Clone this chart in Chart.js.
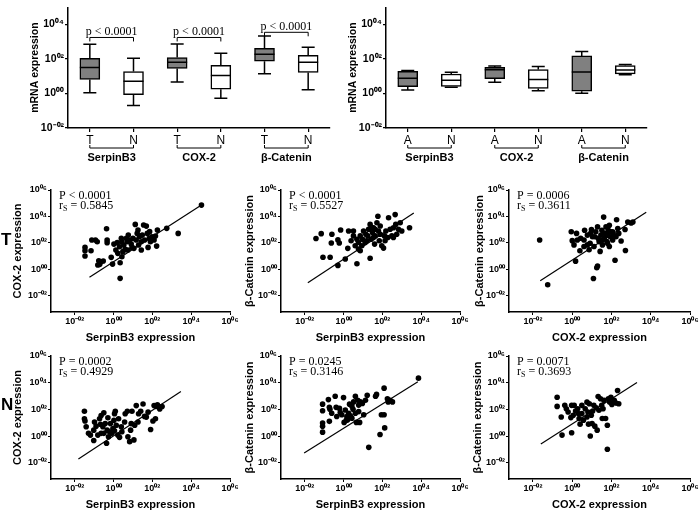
<!DOCTYPE html>
<html>
<head>
<meta charset="utf-8">
<script src="https://cdn.jsdelivr.net/npm/chart.js@4.4.1/dist/chart.umd.min.js"></script>
<style>
  body { margin: 0; background: #fff; }
  #fig { position: relative; width: 700px; height: 514px; overflow: hidden; }
  #fig canvas { position: absolute; }
  .rowlab { position: absolute; left: 1px; font: bold 17px 'Liberation Sans', Arial, sans-serif; color: #000; }
</style>
</head>
<body>
<div id="fig">
  <canvas id="boxTN" width="335" height="170" style="left:0px;top:0px"></canvas>
  <canvas id="boxAN" width="322" height="170" style="left:330px;top:0px"></canvas>
  <canvas id="sT1" width="240" height="165" style="left:0px;top:180px"></canvas>
  <canvas id="sT2" width="230" height="165" style="left:240px;top:180px"></canvas>
  <canvas id="sT3" width="230" height="165" style="left:470px;top:180px"></canvas>
  <canvas id="sN1" width="240" height="166" style="left:0px;top:346px"></canvas>
  <canvas id="sN2" width="230" height="166" style="left:240px;top:346px"></canvas>
  <canvas id="sN3" width="230" height="166" style="left:470px;top:346px"></canvas>
  <div class="rowlab" style="top:230px">T</div>
  <div class="rowlab" style="top:395px">N</div>
</div>
<script>
// all expression values are log10 of the plotted value
var geneNames = ['SerpinB3', 'COX-2', 'β-Catenin'];
var tnLabels = ['T', 'N', 'T', 'N', 'T', 'N'];
var anLabels = ['A', 'N', 'A', 'N', 'A', 'N'];
var boxTicks = [-2, 0, 2, 4];
var scatterTicks = [-2, 0, 2, 4, 6];
var tnPValues = ['p < 0.0001', 'p < 0.0001', 'p < 0.0001'];

// tumour vs normal boxes
var tnMin = [0.05, -0.69, 0.67, -0.27, 1.15, 0.22];
var tnQ1  = [0.82, -0.07, 1.45, 0.25, 1.87, 1.22];
var tnMed = [1.51, 0.71, 1.82, 1.04, 2.27, 1.82];
var tnQ3  = [2.04, 1.27, 2.09, 1.64, 2.62, 2.22];
var tnMax = [2.85, 2.05, 2.87, 2.33, 3.33, 2.69];

// adenoma vs normal boxes
var anMin = [0.20, 0.36, 0.66, 0.16, 0.02, 1.09];
var anQ1  = [0.39, 0.41, 0.86, 0.29, 0.13, 1.14];
var anMed = [0.88, 0.77, 1.38, 0.82, 1.25, 1.37];
var anQ3  = [1.29, 1.13, 1.52, 1.39, 2.18, 1.62];
var anMax = [1.34, 1.23, 1.59, 1.57, 2.43, 1.68];

// T: SerpinB3 vs COX-2
var t1X = [-1.47,-1.47,-1.47,-1.16,-1.12,-0.84,-0.93,-0.36,-0.33,-0.33,-0.76,-0.81,-0.64,-0.53,-0.71,-0.12,-0.05,0.34,0.34,0.43,0.12,0.22,0.02,0.19,0.31,0.43,0.53,0.60,0.71,0.76,0.83,0.91,1.00,1.05,1.12,1.17,1.22,1.29,1.34,1.43,1.48,1.55,1.60,1.69,1.74,1.78,1.84,1.90,1.98,2.09,2.16,2.22,2.26,2.74,3.33,4.53,0.74,0.95,0.48,1.43,1.26,1.86,0.40,0.66];
var t1Y = [1.66,1.41,1.01,1.41,2.22,2.09,2.22,3.07,2.22,2.02,0.65,0.33,0.58,0.63,0.38,0.91,0.40,-0.68,0.50,0.96,1.46,1.21,1.91,2.02,1.71,2.07,1.84,1.51,2.09,2.59,2.22,1.91,2.34,1.59,3.40,2.22,2.72,1.84,2.47,2.09,2.59,3.35,2.22,3.27,2.72,1.66,2.34,2.09,2.47,2.22,2.52,1.76,2.97,3.10,2.72,4.86,1.46,1.66,1.34,1.46,2.97,2.85,2.34,2.34];
var t1FitX = [-1.24, 4.53];
var t1FitY = [-0.60, 4.86];

// T: SerpinB3 vs beta-Catenin
var t2X = [-1.42,-1.15,-1.06,-0.69,-0.63,-0.60,-0.29,-0.22,-0.15,-0.29,0.09,0.22,0.26,0.39,0.51,0.60,0.69,0.69,0.77,0.86,0.94,0.98,1.03,1.11,1.15,1.25,1.29,1.37,1.37,1.42,1.49,1.54,1.60,1.63,1.72,1.77,1.80,1.84,1.89,1.97,2.06,2.11,2.18,2.28,2.32,2.40,2.49,2.57,2.66,2.69,2.74,2.83,2.92,3.00,3.40,0.86,1.54,1.20,0.77,0.51,2.14,2.57,1.49,1.89,1.63];
var t2Y = [2.33,2.70,0.92,0.92,1.99,2.66,2.23,1.99,2.98,0.30,0.79,1.59,2.90,2.16,2.90,1.79,0.42,2.28,1.54,1.41,1.79,2.28,2.90,2.03,2.66,2.53,3.03,3.40,0.84,2.28,2.78,3.15,1.91,2.53,3.52,4.02,2.90,2.16,2.66,1.79,1.61,2.53,2.90,2.41,3.90,3.03,2.53,3.15,4.14,3.40,2.66,3.03,3.52,2.90,3.15,2.53,2.41,2.16,2.03,2.53,2.16,2.41,3.15,3.28,3.03];
var t2FitX = [-1.84, 3.62];
var t2FitY = [-1.02, 4.27];

// T: COX-2 vs beta-Catenin
var t3X = [-1.66,-1.25,0.17,-0.05,0.00,0.09,0.22,0.39,0.60,0.63,0.77,0.86,0.91,1.03,1.08,1.11,1.20,1.25,1.29,1.32,1.37,1.42,1.46,1.51,1.54,1.60,1.63,1.66,1.72,1.77,1.80,1.84,1.89,1.94,1.97,2.06,2.11,2.18,2.23,2.26,2.32,2.37,2.49,2.69,2.71,2.83,3.00,3.09,0.94,1.15,0.77,0.43,0.26,0.98,1.54,1.80,2.06,1.29,0.60,1.89];
var t3Y = [2.22,-1.16,0.62,2.84,2.17,1.85,2.72,1.41,2.22,2.96,2.59,1.48,1.98,2.47,-0.69,1.73,2.84,0.12,0.25,2.35,2.10,1.36,2.59,2.96,1.85,3.95,2.35,2.72,3.21,2.10,2.59,2.96,1.73,2.47,2.84,2.22,2.59,0.69,2.47,3.75,3.09,2.72,2.15,3.01,1.43,3.58,3.51,3.58,2.72,2.47,1.85,2.35,2.22,3.01,2.22,1.98,2.84,3.21,1.73,3.33];
var t3FitX = [-1.63, 3.77];
var t3FitY = [-0.86, 4.32];

// N: SerpinB3 vs COX-2
var n1X = [-1.50,-1.47,-1.41,-1.02,-1.02,-1.29,-1.19,-0.98,-0.90,-0.81,-0.72,-0.64,-0.55,-0.50,-0.43,-0.36,-0.33,-0.29,-0.21,-0.16,-0.09,-0.03,0.02,0.05,0.09,0.14,0.22,0.31,0.43,0.57,0.60,0.71,0.74,0.83,0.88,0.95,1.05,1.09,1.17,1.26,1.29,1.40,1.52,1.60,1.69,1.78,1.91,2.03,2.09,2.16,2.21,2.26,2.38,2.50,-0.67,0.05,-0.64,0.26,0.40,-0.26,-1.50,0.91,-0.50];
var n1Y = [1.86,1.13,0.69,0.44,-0.34,0.20,0.07,1.05,0.74,0.07,1.30,0.20,0.69,1.74,0.93,-0.54,0.44,1.37,0.32,0.93,0.20,0.56,1.18,1.67,1.86,0.81,0.07,-0.10,0.32,1.05,1.67,1.86,-0.05,-0.42,0.44,1.86,-0.29,0.81,2.28,1.05,1.67,1.86,2.40,1.47,1.42,1.79,0.49,1.13,2.28,1.30,2.21,2.35,2.03,2.21,0.88,0.39,1.54,1.30,0.69,-0.05,1.30,0.93,0.20];
var n1FitX = [-1.81, 3.47];
var n1FitY = [-1.72, 3.33];

// N: SerpinB3 vs beta-Catenin
var n2X = [-1.08,-1.08,-1.08,-1.08,-1.08,-0.78,-0.73,-0.70,-0.73,-0.43,-0.38,-0.35,-0.21,-0.09,0.00,0.09,0.17,0.21,0.26,0.31,0.35,0.43,0.49,0.52,0.61,0.61,0.66,0.73,0.78,0.83,0.87,0.97,1.04,1.13,1.22,1.30,1.65,1.70,1.88,1.95,2.09,2.09,2.12,2.26,2.30,2.40,2.52,3.86,0.14,-0.17,0.43,0.78,0.03,-0.61];
var n2Y = [2.39,1.90,0.98,0.73,0.29,2.73,2.15,2.00,1.10,2.98,2.15,1.46,2.07,1.59,2.88,1.95,1.46,1.22,1.71,2.39,1.51,1.34,2.00,2.56,2.98,1.71,1.02,2.68,2.32,1.02,2.56,2.44,1.59,2.68,3.05,-0.85,2.98,3.12,0.12,1.59,3.59,1.59,0.61,2.80,2.56,2.68,2.56,4.34,1.17,1.76,2.24,1.83,1.02,1.71];
var n2FitX = [-2.03, 3.83];
var n2FitY = [-1.27, 4.07];

// N: COX-2 vs beta-Catenin
var n3X = [-0.77,-0.77,-0.56,-0.52,-0.38,-0.30,-0.21,-0.03,-0.03,0.05,0.10,0.17,0.28,0.35,0.40,0.49,0.57,0.66,0.75,0.80,0.83,0.87,0.92,0.97,1.01,1.04,1.15,1.22,1.27,1.32,1.36,1.44,1.50,1.53,1.62,1.70,1.79,1.79,1.84,1.91,2.02,2.14,2.23,2.31,2.37,0.49,0.31,0.75,1.10,1.57,-0.07,1.97];
var n3Y = [2.91,2.22,1.43,0.07,2.30,2.05,1.80,0.25,2.30,1.56,2.30,1.88,2.05,1.31,0.89,1.68,1.19,2.05,2.54,1.80,0.89,2.42,0.00,1.56,0.94,1.88,0.74,2.12,0.44,2.96,1.93,2.79,2.30,1.31,2.67,1.31,0.81,-0.99,2.79,2.54,2.37,2.67,2.47,3.41,2.42,2.30,1.68,1.43,2.30,2.05,1.38,2.91];
var n3FitX = [-1.60, 3.30];
var n3FitY = [-0.59, 4.02];

Chart.defaults.font.family = "'Liberation Sans', Arial, sans-serif";
Chart.defaults.color = '#000';

var SANS = "'Liberation Sans', 'DejaVu Sans', Arial, sans-serif";
var SERIF = "'Liberation Serif', 'Times New Roman', serif";
var sup = { '0': '⁰', '1': '¹', '2': '²', '3': '³', '4': '⁴', '5': '⁵', '6': '⁶', '7': '⁷', '8': '⁸', '9': '⁹', '-': '⁻' };

function pow10(v) {
    return Math.pow(10, v);
}

function powLabel(value) {
    var e = Math.round(Math.log10(value));
    var s = (e < 0 ? '-' : '') + String(Math.abs(e)).padStart(2, '0');
    return '10' + s.split('').map(function (c) { return sup[c]; }).join('');
}

function toPoints(xs, ys) {
    return xs.map(function (v, i) {
        return { x: pow10(v), y: pow10(ys[i]) };
    });
}

// whiskers, medians, brackets and group names for the box plots
function boxPlugin(mins, q1s, meds, q3s, maxs, pValues) {
    return {
        id: 'boxParts',
        afterDatasetsDraw: function (chart) {
            var ctx = chart.ctx;
            var xs = chart.scales.x;
            var ys = chart.scales.y;
            var py = function (v) { return ys.getPixelForValue(pow10(v)); };

            ctx.save();
            ctx.strokeStyle = '#000';
            ctx.lineWidth = 1.5;
            chart.getDatasetMeta(0).data.forEach(function (el, i) {
                var cx = el.x, hw = el.width / 2, cap = hw * 0.65;
                ctx.beginPath();
                ctx.moveTo(cx, py(q3s[i])); ctx.lineTo(cx, py(maxs[i]));
                ctx.moveTo(cx - cap, py(maxs[i])); ctx.lineTo(cx + cap, py(maxs[i]));
                ctx.moveTo(cx, py(q1s[i])); ctx.lineTo(cx, py(mins[i]));
                ctx.moveTo(cx - cap, py(mins[i])); ctx.lineTo(cx + cap, py(mins[i]));
                ctx.moveTo(cx - hw, py(meds[i])); ctx.lineTo(cx + hw, py(meds[i]));
                ctx.stroke();
            });

            ctx.lineWidth = 1;
            ctx.textAlign = 'center';
            geneNames.forEach(function (name, g) {
                var xa = xs.getPixelForValue(2 * g);
                var xb = xs.getPixelForValue(2 * g + 1);
                var yb = xs.top + 20;

                ctx.beginPath();
                ctx.moveTo(xa, yb - 3); ctx.lineTo(xa, yb); ctx.lineTo(xb, yb); ctx.lineTo(xb, yb - 3);
                ctx.stroke();
                ctx.font = 'bold 11px ' + SANS;
                ctx.textBaseline = 'middle';
                ctx.fillStyle = '#000';
                ctx.fillText(name, (xa + xb) / 2, yb + 10);

                if (pValues) {
                    var level = g === 2 ? 3.55 : 3.25;
                    var yp = py(level);
                    ctx.beginPath();
                    ctx.moveTo(xa, yp + 4); ctx.lineTo(xa, yp); ctx.lineTo(xb, yp); ctx.lineTo(xb, yp + 4);
                    ctx.stroke();
                    ctx.font = '12px ' + SERIF;
                    ctx.textBaseline = 'alphabetic';
                    ctx.fillText(pValues[g], (xa + xb) / 2, yp - 2);
                }
            });
            ctx.restore();
        }
    };
}

function boxChart(id, labels, mins, q1s, meds, q3s, maxs, yWidth, titlePad, pValues) {
    new Chart(document.getElementById(id), {
        type: 'bar',
        data: {
            labels: labels,
            datasets: [{
                data: q1s.map(function (v, i) { return [pow10(v), pow10(q3s[i])]; }),
                backgroundColor: labels.map(function (l) { return l === 'N' ? '#ffffff' : '#808080'; }),
                borderColor: '#000',
                borderWidth: 1.5,
                borderSkipped: false,
                barThickness: 20
            }]
        },
        options: {
            responsive: false,
            animation: false,
            events: [],
            layout: { padding: { top: 1, right: 5, left: 0, bottom: 0 } },
            plugins: { legend: { display: false }, tooltip: { enabled: false } },
            scales: {
                x: {
                    afterFit: function (axis) { axis.height = 42; },
                    ticks: { font: { size: 12 }, padding: 1 },
                    grid: { display: true, drawOnChartArea: false, drawTicks: true, tickLength: 4, offset: false, color: '#000', lineWidth: 1.2 },
                    border: { display: true, color: '#000', width: 1.5 }
                },
                y: {
                    type: 'logarithmic',
                    min: 1e-2,
                    max: 1e5,
                    afterBuildTicks: function (axis) {
                        axis.ticks = boxTicks.map(function (e) { return { value: pow10(e) }; });
                    },
                    afterFit: function (axis) { axis.width = yWidth; },
                    ticks: { callback: powLabel, font: { size: 10.5, weight: 'bold' }, padding: 1, autoSkip: false },
                    grid: { display: true, drawOnChartArea: false, drawTicks: true, tickLength: 3, color: '#000', lineWidth: 1.2 },
                    border: { display: true, color: '#000', width: 1.5 },
                    title: { display: true, text: 'mRNA expression', font: { size: 10.5, weight: 'bold' }, padding: { top: titlePad, bottom: 0 } }
                }
            }
        },
        plugins: [boxPlugin(mins, q1s, meds, q3s, maxs, pValues)]
    });
}

// P and r_s text in the corner of each scatter
function statPlugin(pText, rText) {
    return {
        id: 'statText',
        afterDraw: function (chart) {
            var ctx = chart.ctx;
            var area = chart.chartArea;
            var x = area.left + 8;
            var y2 = area.top + 16;

            ctx.save();
            ctx.fillStyle = '#000';
            ctx.textBaseline = 'middle';
            ctx.font = '12px ' + SERIF;
            ctx.fillText(pText, x, area.top + 6);
            ctx.fillText('r', x, y2);
            var w = ctx.measureText('r').width;
            ctx.font = '8px ' + SERIF;
            ctx.fillText('S', x + w, y2 + 3);
            w += ctx.measureText('S').width;
            ctx.font = '12px ' + SERIF;
            ctx.fillText(' = ' + rText, x + w, y2);
            ctx.restore();
        }
    };
}

function logAxis(fit, title, titlePad) {
    return {
        type: 'logarithmic',
        min: pow10(-3.2),
        max: 1e6,
        afterBuildTicks: function (axis) {
            axis.ticks = scatterTicks.map(function (e) { return { value: pow10(e) }; });
        },
        afterFit: fit,
        ticks: { callback: powLabel, font: { size: 9, weight: 'bold' }, padding: 1, maxRotation: 0, autoSkip: false },
        grid: { display: true, drawOnChartArea: false, drawTicks: true, tickLength: 3, color: '#000', lineWidth: 1 },
        border: { display: true, color: '#000', width: 1.5 },
        title: { display: true, text: title, font: { size: 11, weight: 'bold' }, padding: { top: titlePad, bottom: 0 } }
    };
}

function scatterChart(id, xs, ys, fitX, fitY, xTitle, yTitle, yWidth, yTitlePad, pText, rText) {
    new Chart(document.getElementById(id), {
        type: 'scatter',
        data: {
            datasets: [{
                data: toPoints(xs, ys),
                backgroundColor: '#000',
                borderWidth: 0,
                pointRadius: 2.8
            }, {
                data: toPoints(fitX, fitY),
                showLine: true,
                borderColor: '#000',
                borderWidth: 1.2,
                pointRadius: 0
            }]
        },
        options: {
            responsive: false,
            animation: false,
            events: [],
            layout: { padding: { top: 10, right: 10, left: 0, bottom: 0 } },
            plugins: { legend: { display: false }, tooltip: { enabled: false } },
            scales: {
                x: logAxis(function (axis) { axis.height = 33; }, xTitle, 4.4),
                y: logAxis(function (axis) { axis.width = yWidth; }, yTitle, yTitlePad)
            }
        },
        plugins: [statPlugin(pText, rText)]
    });
}

boxChart('boxTN', tnLabels, tnMin, tnQ1, tnMed, tnQ3, tnMax, 68, 28.7, tnPValues);
boxChart('boxAN', anLabels, anMin, anQ1, anMed, anQ3, anMax, 56, 16.7, null);

scatterChart('sT1', t1X, t1Y, t1FitX, t1FitY, 'SerpinB3 expression', 'COX-2 expression', 51, 11.4, 'P < 0.0001', '0.5845');
scatterChart('sT2', t2X, t2Y, t2FitX, t2FitY, 'SerpinB3 expression', 'β-Catenin expression', 41, 3.4, 'P < 0.0001', '0.5527');
scatterChart('sT3', t3X, t3Y, t3FitX, t3FitY, 'COX-2 expression', 'β-Catenin expression', 39, 3.4, 'P = 0.0006', '0.3611');
scatterChart('sN1', n1X, n1Y, n1FitX, n1FitY, 'SerpinB3 expression', 'COX-2 expression', 51, 11.4, 'P = 0.0002', '0.4929');
scatterChart('sN2', n2X, n2Y, n2FitX, n2FitY, 'SerpinB3 expression', 'β-Catenin expression', 41, 3.4, 'P = 0.0245', '0.3146');
scatterChart('sN3', n3X, n3Y, n3FitX, n3FitY, 'COX-2 expression', 'β-Catenin expression', 39, 1.4, 'P = 0.0071', '0.3693');
</script>
</body>
</html>
